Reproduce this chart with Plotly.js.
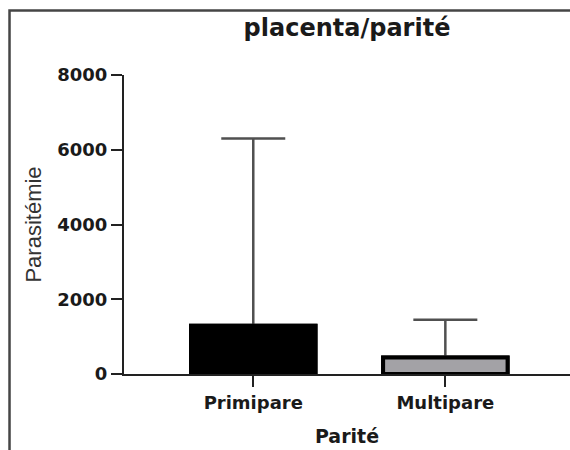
<!DOCTYPE html>
<html>
<head>
<meta charset="utf-8">
<script src="https://cdn.plot.ly/plotly-3.0.1.min.js"></script>
<style>
  html, body { margin: 0; padding: 0; background: #fff; }
  #chart { width: 570px; height: 450px; }
</style>
</head>
<body>
<div id="chart"></div>
<script>
// Data
const categories = ['Primipare', 'Multipare'];
const means = [1290, 440];
const errorsPlus = [5010, 1010];
const barColors = ['#000000', '#a3a2a6'];
const yTicks = [0, 2000, 4000, 6000, 8000];

const chartTitle = 'placenta/parité';
const xTitle = 'Parité';
const yTitle = 'Parasitémie';

// Bars carrying the (upper-only) error bars
const errTrace = {
  type: 'bar',
  x: categories,
  y: means,
  width: 0.648,
  marker: { color: barColors, line: { color: '#000000', width: 4 } },
  error_y: {
    type: 'data',
    symmetric: false,
    array: errorsPlus,
    arrayminus: means.map(() => 0),
    color: '#505050',
    thickness: 2.5,
    width: 32
  },
  showlegend: false,
  hoverinfo: 'none'
};

// Same bars drawn on top so the lower error cap is hidden under the bar outline
const barTrace = {
  type: 'bar',
  x: categories,
  y: means,
  width: 0.648,
  marker: { color: barColors, line: { color: '#000000', width: 4 } },
  showlegend: false,
  hoverinfo: 'none'
};

const layout = {
  width: 570,
  height: 450,
  margin: { l: 124, r: 0, t: 75, b: 76 },
  paper_bgcolor: '#ffffff',
  plot_bgcolor: '#ffffff',
  barmode: 'overlay',
  bargap: 0,
  title: {
    text: chartTitle,
    font: { family: 'DejaVu Sans', size: 24, color: '#1a1a1a', weight: 'bold' },
    x: 0.5, xref: 'paper', xanchor: 'center',
    y: 1 - 28 / 450, yref: 'container', yanchor: 'middle'
  },
  xaxis: {
    type: 'category',
    range: [-0.673, 1.649],
    showline: true, linecolor: '#222222', linewidth: 2,
    ticks: 'outside', ticklen: 11, tickwidth: 2, tickcolor: '#222222',
    showgrid: false, zeroline: false,
    tickfont: { family: 'DejaVu Sans', size: 18, color: '#1a1a1a', weight: 'bold' },
    title: {
      text: xTitle,
      font: { family: 'DejaVu Sans', size: 19, color: '#1a1a1a', weight: 'bold' },
      standoff: 18
    },
    fixedrange: true
  },
  yaxis: {
    range: [0, 8000],
    tickvals: yTicks,
    ticktext: yTicks.map(String),
    showline: true, linecolor: '#222222', linewidth: 2,
    ticks: 'outside', ticklen: 11, tickwidth: 2, tickcolor: '#222222',
    showgrid: false, zeroline: false,
    tickfont: { family: 'DejaVu Sans', size: 18, color: '#1a1a1a', weight: 'bold' },
    title: {
      text: yTitle,
      font: { family: 'Liberation Sans', size: 22, color: '#333333' },
      standoff: 10
    },
    fixedrange: true
  },
  shapes: [{
    type: 'rect', xref: 'paper', yref: 'paper',
    x0: -0.2567, x1: 1.3, y0: -0.4, y1: 1.2157,
    line: { color: '#454545', width: 2.5 },
    fillcolor: 'rgba(0,0,0,0)',
    layer: 'below'
  }]
};

Plotly.newPlot('chart', [errTrace, barTrace], layout, { staticPlot: true, displayModeBar: false });
</script>
</body>
</html>
